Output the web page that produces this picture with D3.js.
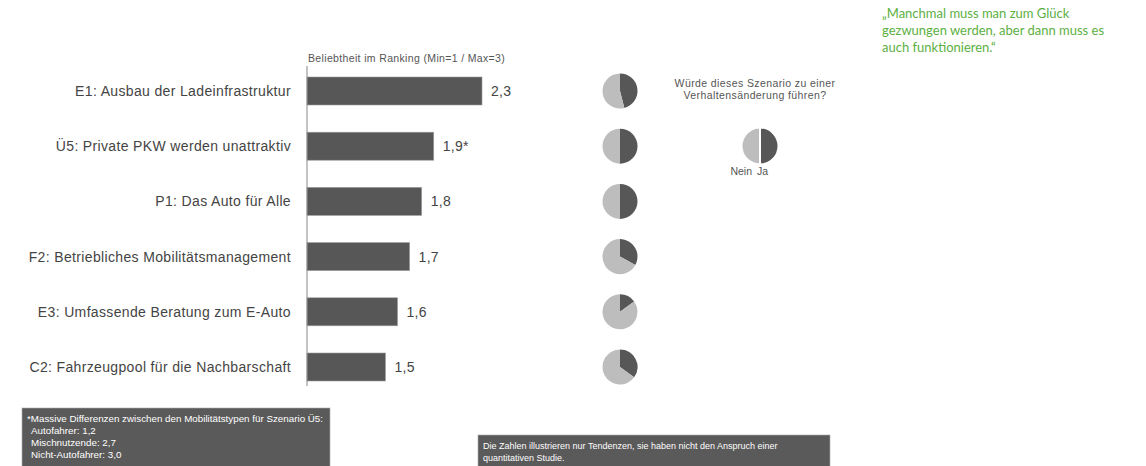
<!DOCTYPE html>
<html>
    <head>
        <meta charset="utf-8">
        <title>Beliebtheit im Ranking</title>
        <style>
            body { margin: 0; background: #fff; }
            svg { display: block; font-family: "Liberation Sans", Arial, sans-serif; }
        </style>
        <script src="https://cdnjs.cloudflare.com/ajax/libs/d3/7.8.5/d3.min.js" charset="utf-8"></script>
    </head>
    <body>
        <div class="ChartContainer"></div>
        <script>
            // data
            const categories = [
                "E1: Ausbau der Ladeinfrastruktur",
                "Ü5: Private PKW werden unattraktiv",
                "P1: Das Auto für Alle",
                "F2: Betriebliches Mobilitätsmanagement",
                "E3: Umfassende Beratung zum E-Auto",
                "C2: Fahrzeugpool für die Nachbarschaft"
            ];
            const values = [2.3, 1.9, 1.8, 1.7, 1.6, 1.5];
            const valueLabels = ["2,3", "1,9*", "1,8", "1,7", "1,6", "1,5"];
            // share "Ja" (would change behaviour)
            const jaShare = [0.46, 0.5, 0.5, 0.33, 0.15, 0.35];

            const footnoteLines = [
                "*Massive Differenzen zwischen den Mobilitätstypen für Szenario Ü5:",
                "Autofahrer: 1,2",
                "Mischnutzende: 2,7",
                "Nicht-Autofahrer: 3,0"
            ];
            const disclaimerLines = [
                "Die Zahlen illustrieren nur Tendenzen, sie haben nicht den Anspruch einer",
                "quantitativen Studie."
            ];
            const quoteLines = [
                "„Manchmal muss man zum Glück",
                "gezwungen werden, aber dann muss es",
                "auch funktionieren.“"
            ];

            const w = 1146;
            const h = 466;
            const dark = "#575757";
            const light = "#bdbdbd";

            const svg = d3.select(".ChartContainer")
                .append("svg")
                .attr("width", w)
                .attr("height", h);

            const axisX = 307;

            const xScale = d3.scaleLinear()
                .domain([0.85, 2.3])
                .range([axisX, axisX + 175]);

            const yScale = d3.scalePoint()
                .domain(categories)
                .range([91, 367]);

            const barH = 28;

            // axis title
            svg.append("text")
                .attr("x", axisX + 1)
                .attr("y", 62)
                .attr("font-size", 10.5)
                .attr("letter-spacing", 0.35)
                .attr("fill", "#555")
                .text("Beliebtheit im Ranking (Min=1 / Max=3)");

            // bars
            svg.selectAll("rect.bar")
                .data(values)
                .enter()
                .append("rect")
                .attr("class", "bar")
                .attr("x", axisX)
                .attr("y", (d, i) => yScale(categories[i]) - barH / 2)
                .attr("width", d => xScale(d) - axisX)
                .attr("height", barH)
                .attr("fill", dark)
                .attr("stroke", "#9a9a9a")
                .attr("stroke-width", 0.6);

            // vertical axis line
            svg.append("line")
                .attr("x1", axisX).attr("x2", axisX)
                .attr("y1", 66).attr("y2", 386)
                .attr("stroke", "#888")
                .attr("stroke-width", 1);

            // category labels
            svg.selectAll("text.cat")
                .data(categories)
                .enter()
                .append("text")
                .attr("class", "cat")
                .attr("x", 291)
                .attr("y", d => yScale(d))
                .attr("dy", "0.35em")
                .attr("text-anchor", "end")
                .attr("font-size", 14)
                .attr("letter-spacing", 0.35)
                .attr("fill", "#444")
                .text(d => d);

            // value labels
            svg.selectAll("text.val")
                .data(values)
                .enter()
                .append("text")
                .attr("class", "val")
                .attr("x", d => xScale(d) + 9)
                .attr("y", (d, i) => yScale(categories[i]))
                .attr("dy", "0.35em")
                .attr("font-size", 14)
                .attr("letter-spacing", 0.3)
                .attr("fill", "#444")
                .text((d, i) => valueLabels[i]);

            // pies
            const pie = d3.pie().sort(null).value(d => d);
            const arc = d3.arc().innerRadius(0).outerRadius(17.5);

            jaShare.forEach((s, i) => {
                const g = svg.append("g")
                    .attr("transform", "translate(620," + yScale(categories[i]) + ")");
                g.selectAll("path")
                    .data(pie([s, 1 - s]))
                    .enter()
                    .append("path")
                    .attr("d", arc)
                    .attr("fill", (d, j) => j === 0 ? dark : light);
            });

            // legend
            svg.append("text")
                .attr("text-anchor", "middle")
                .attr("font-size", 10.5)
                .attr("letter-spacing", 0.4)
                .attr("fill", "#555")
                .selectAll("tspan")
                .data(["Würde dieses Szenario zu einer", "Verhaltensänderung führen?"])
                .enter()
                .append("tspan")
                .attr("x", 755)
                .attr("y", (d, i) => 87 + i * 12)
                .text(d => d);

            const legendArc = d3.arc().innerRadius(0).outerRadius(18.5);
            const legendG = svg.append("g").attr("transform", "translate(760,146)");
            legendG.selectAll("path")
                .data(pie([0.5, 0.5]))
                .enter()
                .append("path")
                .attr("d", legendArc)
                .attr("fill", (d, j) => j === 0 ? dark : light)
                .attr("stroke", "#fff")
                .attr("stroke-width", 2);
            legendG.append("text")
                .attr("x", -8).attr("y", 29)
                .attr("text-anchor", "end")
                .attr("font-size", 10.5)
                .attr("fill", "#555")
                .text("Nein");
            legendG.append("text")
                .attr("x", -3).attr("y", 29)
                .attr("font-size", 10.5)
                .attr("fill", "#555")
                .text("Ja");

            // footnote box
            svg.append("rect")
                .attr("x", 22).attr("y", 408)
                .attr("width", 308).attr("height", 70)
                .attr("fill", "#5a5a5a")
                .attr("stroke", "#aaa")
                .attr("stroke-width", 0.6);
            svg.append("text")
                .attr("font-size", 9.8)
                .attr("fill", "#fff")
                .selectAll("tspan")
                .data(footnoteLines)
                .enter()
                .append("tspan")
                .attr("x", (d, i) => i === 0 ? 27 : 31)
                .attr("y", (d, i) => 422 + i * 12)
                .text(d => d);

            // disclaimer box
            svg.append("rect")
                .attr("x", 478).attr("y", 435)
                .attr("width", 352).attr("height", 40)
                .attr("fill", "#5a5a5a")
                .attr("stroke", "#aaa")
                .attr("stroke-width", 0.6);
            svg.append("text")
                .attr("font-size", 9)
                .attr("fill", "#fff")
                .selectAll("tspan")
                .data(disclaimerLines)
                .enter()
                .append("tspan")
                .attr("x", 483)
                .attr("y", (d, i) => 449 + i * 12)
                .text(d => d);

            // quote
            svg.append("text")
                .attr("font-family", "Lato, 'Open Sans', sans-serif")
                .attr("font-size", 13)
                .attr("fill", "#5cb043")
                .selectAll("tspan")
                .data(quoteLines)
                .enter()
                .append("tspan")
                .attr("x", 882)
                .attr("y", (d, i) => 18 + i * 17)
                .text(d => d);
        </script>
    </body>
</html>
